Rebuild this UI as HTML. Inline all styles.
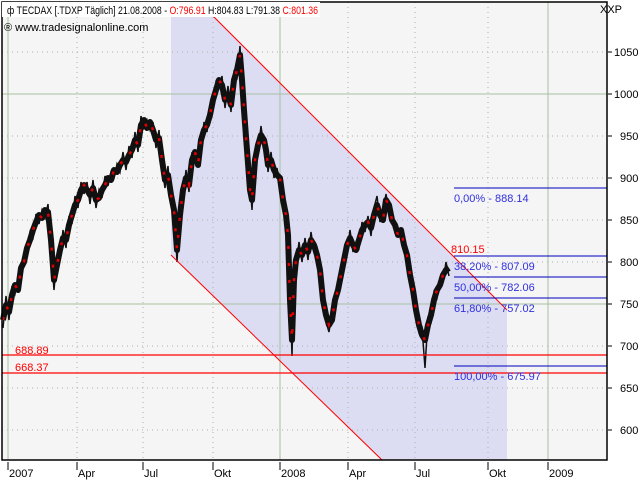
<!DOCTYPE html>
<html><head><meta charset="utf-8"><style>
body{margin:0;background:#fff;width:640px;height:480px;overflow:hidden}
svg text{font-family:"Liberation Sans",sans-serif;font-size:11px}
</style></head><body>
<svg width="640" height="480" xmlns="http://www.w3.org/2000/svg">
<rect x="0" y="0" width="640" height="480" fill="#fff"/>
<rect x="2" y="2" width="605" height="458" fill="#f5f5f5"/>
<polygon points="171,17 214,17 507,310 507,460 382,460 171,255" fill="#dcdcf2"/>
<g stroke="#b0b0b0" stroke-dasharray="1,4">
<line x1="2" x2="607" y1="52" y2="52"/><line x1="2" x2="607" y1="136" y2="136"/><line x1="2" x2="607" y1="178" y2="178"/><line x1="2" x2="607" y1="220" y2="220"/><line x1="2" x2="607" y1="262" y2="262"/><line x1="2" x2="607" y1="346" y2="346"/><line x1="2" x2="607" y1="388" y2="388"/><line x1="2" x2="607" y1="430" y2="430"/>
<line x1="77" x2="77" y1="2" y2="460"/><line x1="143" x2="143" y1="2" y2="460"/><line x1="213" x2="213" y1="2" y2="460"/><line x1="348" x2="348" y1="2" y2="460"/><line x1="415" x2="415" y1="2" y2="460"/><line x1="488" x2="488" y1="2" y2="460"/>
</g>
<g stroke="#a8c0a0">
<line x1="2" x2="607" y1="94" y2="94"/><line x1="2" x2="607" y1="304" y2="304"/>
<line x1="8" x2="8" y1="2" y2="460"/><line x1="280" x2="280" y1="2" y2="460"/><line x1="548" x2="548" y1="2" y2="460"/>
</g>
<polyline fill="none" stroke="#111" stroke-width="6" stroke-linejoin="round" points="3,320 6,305 9,312 12,295 15,285 18,290 21,268 24,262 27,248 30,240 33,230 36,222 39,215 42,218 45,210 48,212 51,240 54,280 57,265 60,250 63,238 66,240 69,225 72,215 75,205 78,200 81,190 84,185 87,190 90,195 93,188 96,200 99,198 102,190 105,185 108,178 111,180 114,170 117,172 120,165 123,160 126,162 129,155 132,150 135,140 138,145 141,125 144,120 147,128 150,122 153,130 156,140 159,138 162,160 165,180 168,175 171,195 174,210 177,250 180,215 183,190 186,178 189,185 192,160 195,152 198,165 201,140 204,130 207,125 210,115 213,100 216,90 219,80 222,85 225,100 228,95 231,105 234,80 237,70 240,55 242,80 244,110 247,150 250,190 252,200 255,160 258,145 261,135 264,140 266,150 268,165 271,160 274,170 277,175 280,178 283,200 286,215 288,235 290,300 292,340 294,280 296,260 299,250 302,255 305,245 308,252 311,240 314,245 317,255 320,270 323,300 326,315 329,325 332,320 335,300 338,290 341,275 344,260 347,245 350,238 353,245 356,250 359,240 362,230 365,225 368,222 371,228 374,215 377,205 380,215 383,220 386,200 389,205 392,220 395,225 398,235 401,230 404,245 407,255 410,275 413,290 416,310 419,325 422,335 425,340 428,325 431,315 434,300 437,290 440,285 443,275 446,270 449,268"/>
<polyline fill="none" stroke="#111" stroke-width="1.5" points="3,328 6,296 9,320 12,286 15,294 18,280 21,276 24,254 27,256 30,232 33,238 36,214 39,224 42,210 45,218 48,204 51,250 54,290 57,256 60,258 63,230 66,248 69,216 72,224 75,196 78,208 81,182 84,194 87,182 90,204 93,180 96,208 99,190 102,198 105,176 108,186 111,172 114,178 117,164 120,172 123,152 126,170 129,146 132,158 135,132 138,152 141,116 144,128 147,120 150,130 153,122 156,148 159,130 162,168 165,188 168,166 171,204 174,202 177,262 180,206 183,198 186,170 189,192 192,152 195,160 198,156 201,148 204,122 207,132 210,106 213,108 216,82 219,88 222,76 225,108 228,86 231,112 234,72 237,78 240,46 242,88 244,102 247,160 250,182 252,210 255,152 258,153 261,126 264,148 266,142 268,172 271,152 274,178 277,168 280,186 283,192 286,222 288,244 290,290 292,356 294,272 296,268 299,242 302,262 305,238 308,260 311,232 314,252 317,248 320,278 323,292 326,322 329,332 332,312 335,308 338,282 341,282 344,252 347,252 350,230 353,252 356,242 359,248 362,222 365,232 368,216 371,236 374,208 377,196 380,222 383,212 386,194 389,212 392,212 395,232 398,228 401,238 404,238 407,262 410,268 413,298 416,302 419,332 422,328 425,368 428,318 431,322 434,292 437,298 440,278 443,282 446,262 449,276"/>
<polyline fill="none" stroke="#e00000" stroke-width="2.5" stroke-dasharray="3,14" points="3,320 6,305 9,312 12,295 15,285 18,290 21,268 24,262 27,248 30,240 33,230 36,222 39,215 42,218 45,210 48,212 51,240 54,280 57,265 60,250 63,238 66,240 69,225 72,215 75,205 78,200 81,190 84,185 87,190 90,195 93,188 96,200 99,198 102,190 105,185 108,178 111,180 114,170 117,172 120,165 123,160 126,162 129,155 132,150 135,140 138,145 141,125 144,120 147,128 150,122 153,130 156,140 159,138 162,160 165,180 168,175 171,195 174,210 177,250 180,215 183,190 186,178 189,185 192,160 195,152 198,165 201,140 204,130 207,125 210,115 213,100 216,90 219,80 222,85 225,100 228,95 231,105 234,80 237,70 240,55 242,80 244,110 247,150 250,190 252,200 255,160 258,145 261,135 264,140 266,150 268,165 271,160 274,170 277,175 280,178 283,200 286,215 288,235 290,300 292,340 294,280 296,260 299,250 302,255 305,245 308,252 311,240 314,245 317,255 320,270 323,300 326,315 329,325 332,320 335,300 338,290 341,275 344,260 347,245 350,238 353,245 356,250 359,240 362,230 365,225 368,222 371,228 374,215 377,205 380,215 383,220 386,200 389,205 392,220 395,225 398,235 401,230 404,245 407,255 410,275 413,290 416,310 419,325 422,335 425,340 428,325 431,315 434,300 437,290 440,285 443,275 446,270 449,268"/>
<line x1="205" y1="8" x2="507" y2="310" stroke="#f00"/>
<line x1="171" y1="255" x2="382" y2="460" stroke="#f00"/>
<line x1="2" x2="607" y1="355" y2="355" stroke="#f00" stroke-width="1.3"/>
<line x1="2" x2="607" y1="373" y2="373" stroke="#f00" stroke-width="1.3"/>
<g stroke="#0000c0">
<line x1="454" x2="607" y1="188" y2="188"/><line x1="454" x2="607" y1="256" y2="256"/><line x1="454" x2="607" y1="277" y2="277"/><line x1="454" x2="607" y1="298" y2="298"/><line x1="454" x2="607" y1="366" y2="366"/>
</g>
<g fill="#3030e0">
<text x="454" y="202">0,00% - 888.14</text>
<text x="454" y="270">38,20% - 807.09</text>
<text x="454" y="291">50,00% - 782.06</text>
<text x="454" y="312">61,80% - 757.02</text>
<text x="454" y="380">100,00% - 675.97</text>
</g>
<g fill="#f00"><text x="451" y="253">810.15</text><text x="15" y="354">688.89</text><text x="15" y="371">668.37</text></g>
<rect x="2" y="2" width="605" height="458" fill="none" stroke="#000" stroke-width="1.5"/>
<rect x="2" y="2" width="318" height="15" fill="#fff"/>
<text x="7" y="14" font-size="12" textLength="311" lengthAdjust="spacingAndGlyphs"><tspan>ф TECDAX [.TDXP  Täglich] 21.08.2008 - </tspan><tspan fill="#f00">O:796.91</tspan> H:804.83 L:791.38 <tspan fill="#f00">C:801.36</tspan></text>
<text x="4" y="31" font-size="11">® www.tradesignalonline.com</text>
<text x="600" y="13">XXP</text>
<g font-size="11">
<text x="614" y="56">1050</text><text x="614" y="98">1000</text><text x="620" y="140">950</text><text x="620" y="182">900</text><text x="620" y="224">850</text><text x="620" y="266">800</text><text x="620" y="308">750</text><text x="620" y="350">700</text><text x="620" y="392">650</text><text x="620" y="434">600</text>
</g>
<g stroke="#000"><line x1="608" x2="612" y1="52" y2="52"/><line x1="608" x2="612" y1="94" y2="94"/><line x1="608" x2="612" y1="136" y2="136"/><line x1="608" x2="612" y1="178" y2="178"/><line x1="608" x2="612" y1="220" y2="220"/><line x1="608" x2="612" y1="262" y2="262"/><line x1="608" x2="612" y1="304" y2="304"/><line x1="608" x2="612" y1="346" y2="346"/><line x1="608" x2="612" y1="388" y2="388"/><line x1="608" x2="612" y1="430" y2="430"/>
<line x1="8" x2="8" y1="462" y2="470"/><line x1="77" x2="77" y1="462" y2="470"/><line x1="143" x2="143" y1="462" y2="470"/><line x1="213" x2="213" y1="462" y2="470"/><line x1="280" x2="280" y1="462" y2="470"/><line x1="348" x2="348" y1="462" y2="470"/><line x1="415" x2="415" y1="462" y2="470"/><line x1="488" x2="488" y1="462" y2="470"/><line x1="548" x2="548" y1="462" y2="470"/></g>
<g><text x="9" y="477">2007</text><text x="78" y="477">Apr</text><text x="144" y="477">Jul</text><text x="214" y="477">Okt</text><text x="281" y="477">2008</text><text x="349" y="477">Apr</text><text x="416" y="477">Jul</text><text x="489" y="477">Okt</text><text x="549" y="477">2009</text></g>
</svg>
</body></html>
